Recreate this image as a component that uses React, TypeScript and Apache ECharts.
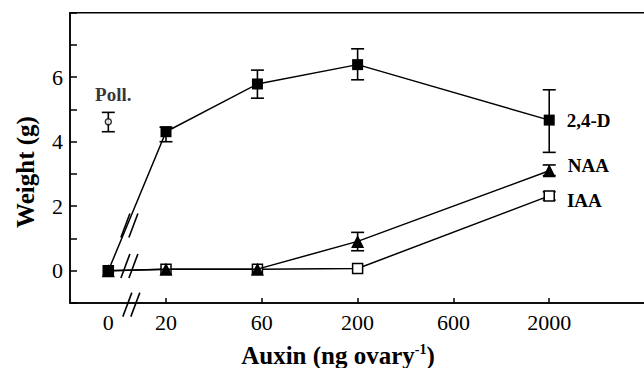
import React, { useEffect, useRef } from "react";
import * as echarts from "echarts";

// ---- data ----
const doses = [0, 20, 60, 200, 2000]; // ng ovary-1
const zeroDrawnAt = 10; // the "0" dose is drawn at 10 on the broken log axis
const d24 = [0, 4.31, 5.79, 6.39, 4.67];
const d24Low = [null, 4.0, 5.35, 5.92, 3.67];
const d24High = [null, 4.45, 6.22, 6.88, 5.61];
const naa = [0, 0.05, 0.05, 0.91, 3.1];
const naaLow = [null, null, null, 0.62, 2.95];
const naaHigh = [null, null, null, 1.19, 3.28];
const iaa = [0, 0.05, 0.05, 0.07, 2.32];
const iaaLow = [null, null, null, null, 2.19];
const iaaHigh = [null, null, null, null, 2.45];
const pollValue = 4.62;
const pollLow = 4.31;
const pollHigh = 4.91;

const xTickLabels = ["0", "20", "60", "200", "600", "2000"];
const xTickDoses = [10, 20, 63.25, 200, 632.5, 2000]; // half-decade spacing
const yTickLabels = [0, 2, 4, 6];

const FONT = "Liberation Serif";

const lg = (d: number) => Math.log10(d === 0 ? zeroDrawnAt : d);

function seriesPoints(vals: number[], labelText: string, labelOffset: number[]) {
  return doses.map((d, i) => {
    const v = [lg(d), vals[i]];
    if (i === doses.length - 1) {
      return {
        value: v,
        label: {
          show: true,
          formatter: labelText,
          position: "right",
          distance: 12,
          offset: labelOffset,
          color: "#000",
          fontFamily: FONT,
          fontWeight: "bold",
          fontSize: 19,
        },
      };
    }
    return v;
  });
}

function errData(low: (number | null)[], high: (number | null)[]) {
  const out: number[][] = [];
  doses.forEach((d, i) => {
    if (low[i] != null && high[i] != null) out.push([lg(d), low[i] as number, high[i] as number]);
  });
  return out;
}

const renderErr = (params: any, api: any) => {
  const x = api.value(0);
  const lo = api.coord([x, api.value(1)]);
  const hi = api.coord([x, api.value(2)]);
  const w = 6.5;
  const st = { stroke: "#000", lineWidth: 1.6 };
  return {
    type: "group",
    children: [
      { type: "line", shape: { x1: lo[0], y1: lo[1], x2: hi[0], y2: hi[1] }, style: st },
      { type: "line", shape: { x1: lo[0] - w, y1: lo[1], x2: lo[0] + w, y2: lo[1] }, style: st },
      { type: "line", shape: { x1: hi[0] - w, y1: hi[1], x2: hi[0] + w, y2: hi[1] }, style: st },
    ],
  };
};

// axis-break marks, in data coordinates
const breakMarks = [
  { x: 1.11, y: 1.4 },
  { x: 1.11, y: 0.15 },
  { x: 1.12, y: -1.05 },
];

export default function App() {
  const ref = useRef<HTMLDivElement>(null);
  useEffect(() => {
    if (!ref.current) return;
    const chart = echarts.init(ref.current, null, { renderer: "svg" });
    const lineStyle = { color: "#000", width: 1.5 };
    const errSeries = (data: number[][]) => ({
      type: "custom",
      renderItem: renderErr,
      data,
      encode: { x: 0, y: [1, 2] },
      z: 1,
      silent: true,
    });
    chart.setOption({
      animation: false,
      backgroundColor: "#fff",
      grid: {
        left: 70,
        top: 12.7,
        width: 594,
        height: 290.3,
        show: true,
        borderColor: "#000",
        borderWidth: 1.5,
        outerBoundsMode: "none",
        containLabel: false,
      },
      xAxis: {
        type: "value",
        min: 0.8,
        max: 3.9,
        axisLine: { show: true, onZero: false, lineStyle: { color: "#000", width: 1.5 } },
        axisTick: {
          show: true,
          inside: true,
          length: 5,
          lineStyle: { color: "#000", width: 1.5 },
          customValues: xTickDoses.slice(1).map((d) => Math.log10(d)),
        },
        axisLabel: {
          customValues: xTickDoses.map((d) => Math.log10(d)),
          formatter: (v: number) => {
            let best = 0;
            xTickDoses.forEach((d, i) => {
              if (Math.abs(Math.log10(d) - v) < Math.abs(Math.log10(xTickDoses[best]) - v)) best = i;
            });
            return xTickLabels[best];
          },
          color: "#000",
          fontFamily: FONT,
          fontSize: 22,
          margin: 8,
        },
        splitLine: { show: false },
      },
      yAxis: {
        type: "value",
        min: -1,
        max: 8,
        interval: 1,
        axisLine: { show: true, onZero: false, lineStyle: { color: "#000", width: 1.5 } },
        axisTick: { show: true, inside: true, length: 7, lineStyle: { color: "#000", width: 1.5 } },
        axisLabel: {
          formatter: (v: number) => (yTickLabels.indexOf(v) >= 0 ? String(v) : ""),
          color: "#000",
          fontFamily: FONT,
          fontSize: 22,
          margin: 7,
        },
        splitLine: { show: false },
      },
      series: [
        errSeries(errData(d24Low, d24High)),
        errSeries(errData(naaLow, naaHigh)),
        errSeries(errData(iaaLow, iaaHigh)),
        errSeries([[lg(0), pollLow, pollHigh]]),
        {
          type: "line",
          name: "IAA",
          data: seriesPoints(iaa, "IAA", [0, 5]),
          symbol: "rect",
          symbolSize: 10,
          lineStyle,
          itemStyle: { color: "#fff", borderColor: "#000", borderWidth: 1.5 },
          z: 3,
        },
        {
          type: "line",
          name: "NAA",
          data: seriesPoints(naa, "NAA", [0, -5]),
          symbol: "triangle",
          symbolSize: 13,
          lineStyle,
          itemStyle: { color: "#000" },
          z: 4,
        },
        {
          type: "line",
          name: "2,4-D",
          data: seriesPoints(d24, "2,4-D", [0, 0]),
          symbol: "rect",
          symbolSize: 11,
          lineStyle,
          itemStyle: { color: "#000" },
          z: 5,
        },
        {
          type: "scatter",
          name: "Poll.",
          data: [[lg(0), pollValue]],
          symbol: "circle",
          symbolSize: 6,
          itemStyle: { color: "#fff", borderColor: "#000", borderWidth: 1.5 },
          label: {
            show: true,
            formatter: "Poll.",
            position: "top",
            distance: 14,
            offset: [5, 0],
            color: "#000",
            fontFamily: FONT,
            fontWeight: "bold",
            fontSize: 19,
          },
          z: 5,
        },
      ],
    });

    const graphics: any[] = [];
    breakMarks.forEach((b) => {
      const p = chart.convertToPixel({ gridIndex: 0 }, [b.x, b.y]) as number[];
      [-4, 4].forEach((off) => {
        graphics.push({
          type: "line",
          z: 10,
          shape: { x1: p[0] + off - 4.5, y1: p[1] + 12, x2: p[0] + off + 4.5, y2: p[1] - 12 },
          style: { stroke: "#000", lineWidth: 1.6 },
        });
      });
    });
    graphics.push({
      type: "text",
      x: 338,
      y: 355,
      style: {
        text: "Auxin (ng ovary{sup|-1})",
        fill: "#000",
        font: `bold 25px "${FONT}"`,
        align: "center",
        verticalAlign: "middle",
        rich: {
          sup: { fontSize: 14, fontWeight: "bold", fontFamily: FONT, verticalAlign: "top", fill: "#000" },
        },
      },
    });
    graphics.push({
      type: "text",
      x: 25,
      y: 172,
      rotation: Math.PI / 2,
      style: {
        text: "Weight (g)",
        fill: "#000",
        font: `bold 25px "${FONT}"`,
        align: "center",
        verticalAlign: "middle",
      },
    });
    chart.setOption({ graphic: graphics });

    return () => chart.dispose();
  }, []);
  return <div ref={ref} style={{ position: "fixed", left: 0, top: 0, width: 644, height: 368 }} />;
}
